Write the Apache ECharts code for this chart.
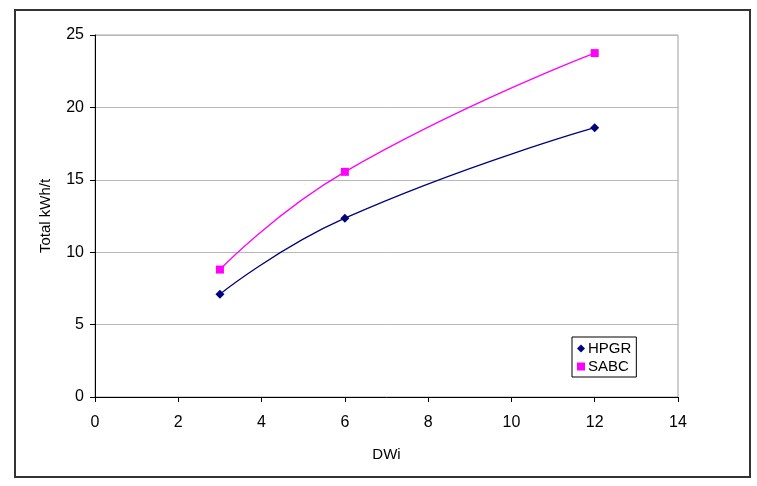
<!DOCTYPE html>
<html>
<head>
<meta charset="utf-8">
<script src="https://cdn.jsdelivr.net/npm/echarts@6/dist/echarts.min.js"></script>
<style>
  html, body { margin: 0; padding: 0; background: #fff; }
  #chart { width: 757px; height: 486px; }
</style>
</head>
<body>
<div id="chart"></div>
<script>
const dwi = [3, 6, 12]
const hpgr = [7.1, 12.35, 18.6]
const sabc = [8.8, 15.55, 23.75]

const font = 'Liberation Sans, Arial, sans-serif'

const chart = echarts.init(document.getElementById('chart'))
chart.setOption({
  animation: false,
  backgroundColor: '#fff',
  textStyle: { fontFamily: font },
  graphic: [
    {
      type: 'rect',
      shape: { x: 15, y: 10, width: 735, height: 467 },
      style: { fill: 'none', stroke: '#333', lineWidth: 2 },
      z: -1
    }
  ],
  grid: {
    left: 95,
    top: 35,
    width: 583,
    height: 362,
    show: true,
    borderColor: '#a0a0a0',
    borderWidth: 1
  },
  legend: {
    orient: 'vertical',
    left: 572,
    top: 337,
    padding: [4, 5, 3, 5],
    itemGap: 3,
    itemWidth: 8,
    itemHeight: 8,
    borderColor: '#000',
    borderWidth: 1,
    backgroundColor: '#fff',
    textStyle: { fontSize: 15, color: '#000', fontFamily: font, padding: [0, 0, 0, -2] },
    data: [
      { name: 'HPGR', icon: 'diamond' },
      { name: 'SABC', icon: 'rect' }
    ]
  },
  xAxis: {
    type: 'value',
    min: 0,
    max: 14,
    interval: 2,
    name: 'DWi',
    nameLocation: 'middle',
    nameGap: 50,
    nameTextStyle: { fontSize: 15, color: '#000', fontFamily: font },
    axisLine: { lineStyle: { color: '#000', width: 1 } },
    axisTick: { length: 5, lineStyle: { color: '#000' } },
    axisLabel: { fontSize: 16, color: '#000', margin: 18, fontFamily: font },
    splitLine: { show: false }
  },
  yAxis: {
    type: 'value',
    min: 0,
    max: 25,
    interval: 5,
    name: 'Total kWh/t',
    nameLocation: 'middle',
    nameRotate: 90,
    nameGap: 42,
    nameTextStyle: { fontSize: 15, color: '#000', fontFamily: font },
    axisLine: { show: true, lineStyle: { color: '#000', width: 1 } },
    axisTick: { show: true, length: 5, lineStyle: { color: '#000' } },
    axisLabel: { fontSize: 16, color: '#000', margin: 11, fontFamily: font },
    splitLine: { lineStyle: { color: '#b8b8b8', width: 1 } }
  },
  series: [
    {
      name: 'HPGR',
      type: 'line',
      smooth: 0.5,
      symbol: 'diamond',
      symbolSize: 9,
      itemStyle: { color: '#000080' },
      lineStyle: { color: '#000080', width: 1.3 },
      data: dwi.map((x, i) => [x, hpgr[i]])
    },
    {
      name: 'SABC',
      type: 'line',
      smooth: 0.5,
      symbol: 'rect',
      symbolSize: 8,
      itemStyle: { color: '#ff00ff' },
      lineStyle: { color: '#ff00ff', width: 1.3 },
      data: dwi.map((x, i) => [x, sabc[i]])
    }
  ]
})
</script>
</body>
</html>
